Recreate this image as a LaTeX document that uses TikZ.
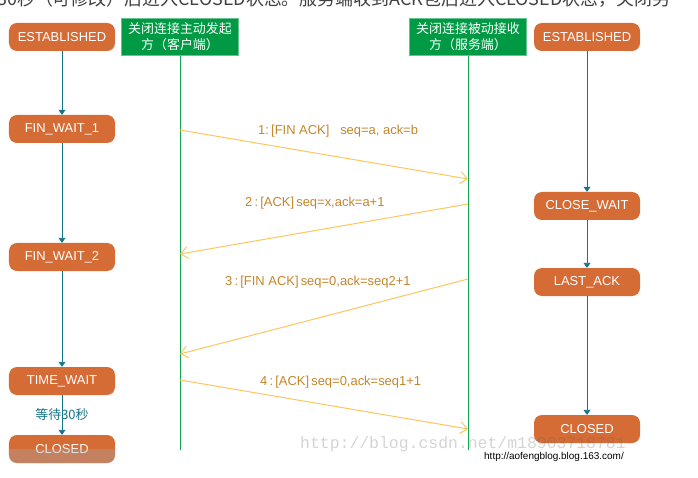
\documentclass[tikz,border=0pt]{standalone}
\usepackage{fontspec}
\setmainfont{Liberation Sans}
\newfontfamily\cjk{Noto Sans CJK SC}
\newfontfamily\wmfont{Liberation Mono}
\usetikzlibrary{arrows.meta}
\definecolor{stateor}{HTML}{D56B35}
\definecolor{flowteal}{HTML}{16748A}
\definecolor{hdrgreen}{HTML}{009A44}
\definecolor{lifegreen}{HTML}{13A453}
\definecolor{msgline}{HTML}{FFC65E}
\definecolor{msgtext}{HTML}{C4862C}
\definecolor{fadegray}{HTML}{A8A8A8}
\begin{document}
\begin{tikzpicture}[x=1bp,y=-1bp,
  state/.style={rounded corners=8bp, fill=stateor, text=white, minimum width=106bp,
    minimum height=28bp, inner sep=0pt, font=\fontsize{13}{15}\selectfont},
  hdr/.style={fill=hdrgreen, draw=hdrgreen!60, text=white, minimum width=117bp,
    minimum height=37bp, inner sep=0pt, align=center, font=\cjk\fontsize{13}{16}\selectfont},
  flow/.style={draw=flowteal, line width=0.9bp, -{Triangle[width=7bp,length=5bp]}},
  life/.style={draw=lifegreen, line width=1bp},
  msg/.style={draw=msgline, line width=1bp, -{Straight Barb[length=7bp,width=12bp]}},
  msglabel/.style={anchor=west, text=msgtext, inner sep=0pt, font=\fontsize{13}{15}\selectfont}
]
\useasboundingbox (0,0) rectangle (698,478);
\fill[white] (0,0) rectangle (698,478);

% cut-off heading text
\begin{scope}
\clip (0,0) rectangle (698,478);
\node[anchor=base west, inner sep=0pt, text=black!75, font=\cjk\fontsize{18}{20}\selectfont]
  (top) at (-3,6) {30秒（可修改）后进入CLOSED状态。服务端收到ACK包后进入CLOSED状态，关闭另};
\end{scope}

% headers
\node[hdr] (hdrL) at (180,37) {关闭连接主动发起\\方（客户端）};
\node[hdr] (hdrR) at (468,37) {关闭连接被动接收\\方（服务端）};
\coordinate (endL) at (180,450);
\coordinate (endR) at (468,450);
\draw[life] (hdrL.south) -- (endL);
\draw[life] (hdrR.south) -- (endR);

% client states
\node[state] (est1) at (62,37) {ESTABLISHED};
\node[state] (fw1) at (62,129) {FIN\_WAIT\_1};
\node[state] (fw2) at (62,257) {FIN\_WAIT\_2};
\node[state] (tw) at (62,381) {TIME\_WAIT};
\node[state] (cl1) at (62,449) {CLOSED};
\begin{scope}
\clip (0,449) rectangle (130,470);
\fill[fadegray, opacity=0.37, rounded corners=8bp] (cl1.south west) rectangle (cl1.north east);
\end{scope}

% server states
\node[state] (est2) at (587,37) {ESTABLISHED};
\node[state] (cw) at (587,206) {CLOSE\_WAIT};
\node[state] (la) at (587,282) {LAST\_ACK};
\node[state] (cl2) at (587,429) {CLOSED};

% state transitions
\draw[flow] (est1) -- (fw1);
\draw[flow] (fw1) -- (fw2);
\draw[flow] (fw2) -- (tw);
\draw[flow] (tw) -- node[text=flowteal, font=\cjk\fontsize{13}{15}\selectfont, inner sep=0pt] (wait) {等待30秒} (cl1);
\draw[flow] (est2) -- (cw);
\draw[flow] (cw) -- (la);
\draw[flow] (la) -- (cl2);

% messages
\coordinate (m1a) at (180,130);
\coordinate (m1b) at (468,179);
\coordinate (m2a) at (468,204);
\coordinate (m2b) at (180,254);
\coordinate (m3a) at (468,279);
\coordinate (m3b) at (180,354);
\coordinate (m4a) at (180,380);
\coordinate (m4b) at (468,429);
\draw[msg] (m1a) -- (m1b);
\draw[msg] (m2a) -- (m2b);
\draw[msg] (m3a) -- (m3b);
\draw[msg] (m4a) -- (m4b);

\node[msglabel] (l1) at (258,131) {1:\,[FIN ACK]~~~seq=a, ack=b};
\node[msglabel] (l2) at (245,203) {2\,:\,[ACK]\,seq=x,ack=a+1};
\node[msglabel] (l3) at (225,282) {3\,:\,[FIN ACK]\,seq=0,ack=seq2+1};
\node[msglabel] (l4) at (260,382) {4\,:\,[ACK]\,seq=0,ack=seq1+1};

% watermarks
\node[anchor=west, inner sep=0pt, text=black!60, opacity=0.28, font=\wmfont\fontsize{16.5}{18}\selectfont]
  (wm) at (300,444) {http://blog.csdn.net/m18903718781};
\node[anchor=west, inner sep=0pt, text=black, font=\fontsize{10}{12}\selectfont]
  (src) at (484,457) {http://aofengblog.blog.163.com/};
\end{tikzpicture}
\end{document}
